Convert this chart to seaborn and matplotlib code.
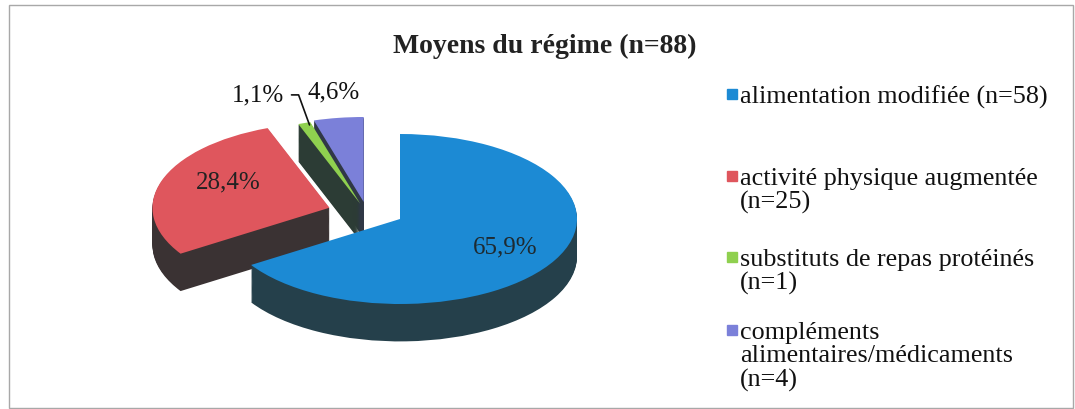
import numpy as np
import matplotlib.pyplot as plt
import seaborn as sns
from matplotlib.patches import Rectangle

# Chart data
categories = ["alimentation modifiée (n=58)",
              "activité physique augmentée\n(n=25)",
              "substituts de repas protéinés\n(n=1)",
              "compléments\nalimentaires/médicaments\n(n=4)"]
counts = [58, 25, 1, 4]
pct_labels = ["65,9%", "28,4%", "1,1%", "4,6%"]
title = "Moyens du régime (n=88)"

sns.set_theme(style="white")
plt.rcParams['font.family'] = ['Liberation Serif', 'DejaVu Serif']

top_colors = ["#1c8ad4", "#df565d", "#8fd04f", "#7b80d9"]
side_colors = ["#25404b", "#3a3233", "#2c3c35", "#303846"]
explode = [0, 0.42, 0, 0]
# the two thin slices are pulled out to the upper left (data units)
small_shift = {2: (-0.225, 0.18), 3: (-0.205, 0.20)}

W, H = 1075, 410
fig = plt.figure(figsize=(W / 100, H / 100), dpi=100)
ax = fig.add_axes([100 / W, 10 / H, 600 / W, 330 / H])


def draw_pie(colors, dy=0.0):
    ws, _ = ax.pie(counts, explode=explode, startangle=90, counterclock=False,
                   colors=colors, center=(0, dy), wedgeprops=dict(linewidth=0))
    for i, (sx, sy) in small_shift.items():
        cx, cy = ws[i].center
        ws[i].set_center((cx + sx, cy + sy))
    return ws


# fake 3D: stack dark copies of the pie downward, then the coloured top
depth = 0.44
n_layers = 40
for k in range(n_layers, 0, -1):
    draw_pie(side_colors, -depth * k / n_layers)
wedges = draw_pie(top_colors)

# squash into an ellipse (177 px per x unit, 85 px per y unit)
ax.set_aspect('auto')
ax.set_xlim(-300 / 177, 300 / 177)
ax.set_ylim(-180 / 85, 150 / 85)


def slice_pos(w, dist, ang=None):
    if ang is None:
        ang = (w.theta1 + w.theta2) / 2
    ang = np.deg2rad(ang)
    cx, cy = w.center
    return cx + dist * np.cos(ang), cy + dist * np.sin(ang)


# percentage labels
x, y = slice_pos(wedges[0], 0.68)
ax.text(x, y, pct_labels[0], ha='center', va='center', fontsize=18, color='#1e2a30')
x, y = slice_pos(wedges[1], 0.6)
ax.text(x, y + 0.12, pct_labels[1], ha='center', va='center', fontsize=18, color='#222222')

gx, gy = slice_pos(wedges[2], 0.97, wedges[2].theta1 + 0.8)
ax.annotate(pct_labels[2], xy=(gx, gy), xytext=(-0.655, 1.46), fontsize=18,
            ha='right', va='center', color='#111111',
            arrowprops=dict(arrowstyle='-', color='#111111', lw=1.2, shrinkA=3, shrinkB=0,
                            connectionstyle='angle,angleA=0,angleB=110,rad=0'))
ax.text(-0.373, 1.50, pct_labels[3], ha='center', va='center', fontsize=18, color='#111111')

# title
fig.text(545 / W, 1 - 46 / H, title, ha='center', va='center',
         fontsize=20, fontweight='bold', color='#222222')

# legend drawn by hand so the marker sits on the first line
entry_centers = [95, 177, 258, 331]
for lab, col, yc in zip(categories, top_colors, entry_centers):
    fig.patches.append(Rectangle((727 / W, 1 - (yc + 5) / H), 10 / W, 10 / H,
                                 transform=fig.transFigure, color=col, figure=fig))
    fig.text(740 / W, 1 - (yc - 9) / H, lab, ha='left', va='top',
             fontsize=18.8, color='#111111', linespacing=1.07)

# frame around the chart
fig.patches.append(Rectangle((9 / W, 1 / H), 1064 / W, 403 / H, transform=fig.transFigure,
                             fill=False, edgecolor='#a8a8a8', lw=1, figure=fig))

fig.savefig('out.png', dpi=100)
